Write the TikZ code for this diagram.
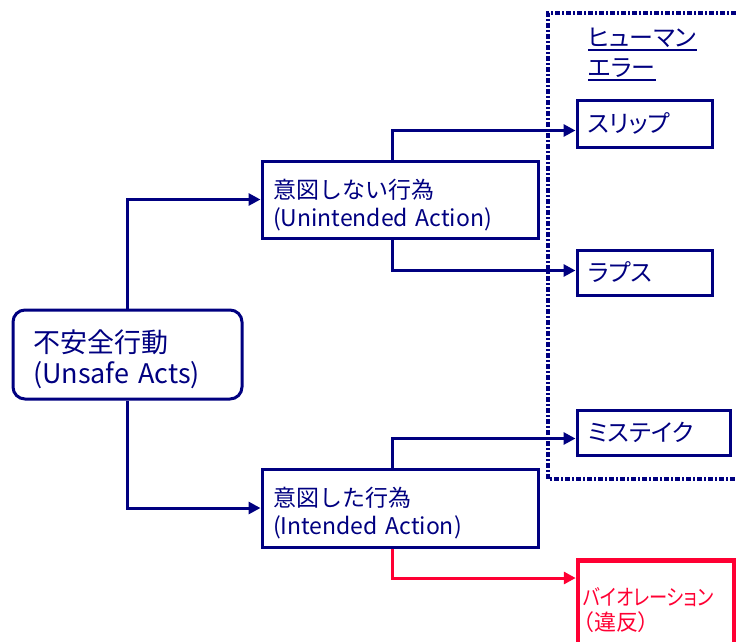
\documentclass[tikz,border=0pt]{standalone}
\usepackage{fontspec}
\setmainfont{Noto Sans CJK JP}
\newfontfamily\palfont{Noto Sans CJK JP}[RawFeature=+palt]
\usetikzlibrary{arrows.meta,calc}
\definecolor{navy}{RGB}{0,0,128}
\definecolor{vred}{RGB}{255,0,51}
\begin{document}
\begin{tikzpicture}[x=1pt,y=-1pt,
  box/.style={draw=navy, line width=3pt, text=navy, align=left, inner xsep=11pt, inner ysep=0pt,
    font=\fontsize{23}{28}\selectfont},
  kbox/.style={box, font=\palfont\fontsize{24}{28}\selectfont},
  conn/.style={draw=navy, line width=3pt, -{Triangle[length=12pt,width=12pt]}},
  hdr/.style={anchor=west, text=navy, inner sep=0pt, font=\palfont\fontsize{24}{28}\selectfont},
  uline/.style={draw=navy, line width=2pt},
  dotbox/.style={draw=navy, line width=3.5pt, dash pattern=on 5pt off 2pt on 2pt off 2pt}
]
\useasboundingbox (0,0) rectangle (736,641);

% dotted group frame
\draw[dotbox] (736,13) -- (548,13) -- (548,479) -- (736,479);

% heading
\node[hdr] (hm) at (588,38) {ヒューマン};
\node[hdr] (er) at (588,68) {エラー};
\draw[uline] ([yshift=-2pt]hm.south west) -- ([yshift=-2pt]hm.south east);
\draw[uline] ([yshift=-2pt]er.south west) -- ([yshift=-2pt]er.south east);

% main nodes
\node[box, rounded corners=12pt, minimum width=229pt, text width=189pt, inner xsep=20pt,
  minimum height=89pt, font=\fontsize{27}{31}\selectfont] (us) at (127.5,354.5)
  {\rule{0pt}{32pt}不安全行動\\(Unsafe Acts)};
\node[box, minimum width=276pt, text width=254pt, minimum height=77pt] (ui) at (400,199.5)
  {\rule{0pt}{30pt}意図しない行為\\(Unintended Action)};
\node[box, minimum width=276pt, text width=254pt, minimum height=78pt] (ia) at (400,508)
  {\rule{0pt}{30pt}意図した行為\\(Intended Action)};

\node[kbox, minimum width=135pt, text width=113pt, minimum height=47pt] (slip) at (644.5,123.5) {スリップ};
\node[kbox, minimum width=135pt, text width=113pt, minimum height=45pt] (rap) at (644.5,272.5) {ラプス};
\node[kbox, minimum width=153pt, text width=131pt, minimum height=45pt] (mis) at (653.5,432.5) {ミステイク};

\node[draw=vred, line width=4.5pt, text=vred, align=left, inner xsep=5pt, inner ysep=0pt,
  minimum width=156pt, text width=146pt, minimum height=90pt,
  font=\palfont\fontsize{22}{25}\selectfont] (vio) at (656,605)
  {\rule{0pt}{29pt}\scalebox{0.83}[1]{バイオレーション}\\（違反）};
\draw[vred, line width=1pt] ([xshift=4pt]vio.south west) -- ([xshift=4pt,yshift=-4.5pt]vio.north west)
  -- ([xshift=-3pt,yshift=-4.5pt]vio.north east) -- ([xshift=-3pt]vio.south east);

% connectors
\draw[conn] (us.north) |- (ui.west);
\draw[conn] (us.south) |- (ia.west);
\draw[conn] ([xshift=132pt]ui.north west) |- ([yshift=-7pt]slip.west);
\draw[conn] ([xshift=132pt]ui.south west) |- ([yshift=2pt]rap.west);
\draw[conn] ([xshift=132pt]ia.north west) |- ([yshift=-6pt]mis.west);
\draw[conn, draw=vred] ([xshift=132pt]ia.south west) |- ([yshift=27pt]vio.west);
\end{tikzpicture}
\end{document}
